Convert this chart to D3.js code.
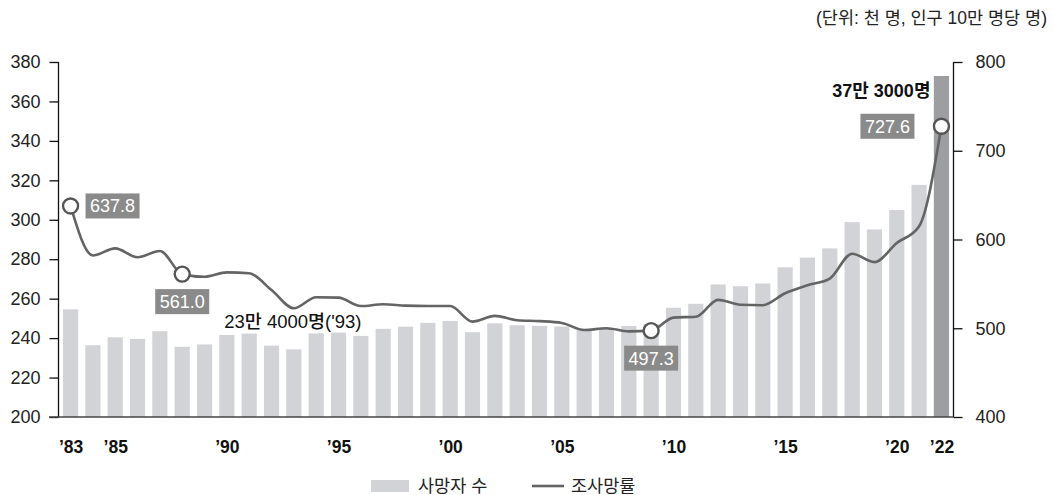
<!DOCTYPE html>
<html>
<head>
<meta charset="utf-8">
<script src="https://cdn.jsdelivr.net/npm/d3@7/dist/d3.min.js"></script>
<style>
  html, body { margin: 0; padding: 0; background: #fff; }
  svg { display: block; font-family: "Liberation Sans", "Noto Sans CJK KR", sans-serif; }
</style>
</head>
<body>
<svg id="chart" width="1053" height="495"></svg>
<script>
// ---- data ----
const years = [1983,1984,1985,1986,1987,1988,1989,1990,1991,1992,1993,1994,1995,1996,1997,1998,1999,2000,2001,2002,2003,2004,2005,2006,2007,2008,2009,2010,2011,2012,2013,2014,2015,2016,2017,2018,2019,2020,2021,2022];
// 사망자 수 (천 명)
const deaths = [254.6,236.4,240.4,239.6,243.5,235.6,236.8,241.6,242.3,236.2,234.3,242.4,242.8,241.1,244.7,245.8,247.7,248.7,243.0,247.5,246.5,246.2,245.9,244.2,245.0,246.1,247.0,255.4,257.4,267.2,266.3,267.7,275.9,280.8,285.5,298.8,295.1,304.9,317.7,372.9];
// 조사망률 (인구 10만 명당 명)
const rates = [637.8,582,590,580,587,561.0,558,563,562,543,522.5,535,534.5,525,527,525.5,525,525,507.5,514,509,508,506,498,500,496.5,497.3,512,513,532,526.5,526,539.5,548.5,556,584,574.5,596,615,727.6];
const leftTicks = [200,220,240,260,280,300,320,340,360,380];
const rightTicks = [400,500,600,700,800];
const xTickYears = [1983,1985,1990,1995,2000,2005,2010,2015,2020,2022];
const xTickLabels = ["’83","’85","’90","’95","’00","’05","’10","’15","’20","’22"];
const boxed = [
  {year:1983, text:"637.8", pos:"right"},
  {year:1988, text:"561.0", pos:"below"},
  {year:2009, text:"497.3", pos:"below"},
  {year:2022, text:"727.6", pos:"left"}
];
const unitText = "(단위: 천 명, 인구 10만 명당 명)";
const minNote = {year:1993, text:"23만 4000명('93)"};
const maxNote = {year:2022, text:"37만 3000명"};
const legendBar = "사망자 수";
const legendLine = "조사망률";

// ---- layout ----
const L = 58.5, R = 953.5, T = 62, B = 417;
const svg = d3.select("#chart");

const x = d3.scaleBand().domain(years).range([L, R]).paddingInner(0.32).paddingOuter(0.2);
const yL = d3.scaleLinear().domain([200, 380]).range([B, T]);
const yR = d3.scaleLinear().domain([400, 800]).range([B, T]);
const cx = yr => x(yr) + x.bandwidth() / 2;

// bars
svg.append("g").selectAll("rect").data(years).join("rect")
  .attr("x", d => x(d))
  .attr("width", x.bandwidth())
  .attr("y", (d, i) => yL(deaths[i]))
  .attr("height", (d, i) => B - yL(deaths[i]))
  .attr("fill", d => d === 2022 ? "#9d9ea2" : "#d2d3d7");

// left axis
const gL = svg.append("g").attr("transform", `translate(${L},0)`)
  .call(d3.axisLeft(yL).tickValues(leftTicks).tickSize(9).tickPadding(9));
gL.select(".domain").attr("stroke", "#111").attr("stroke-width", 1.3).attr("d", `M0,${T}V${B}`);
gL.selectAll(".tick line").attr("stroke", "#111").attr("stroke-width", 1.3);
gL.selectAll(".tick text").attr("font-size", 18).attr("fill", "#222").attr("font-family", "Liberation Sans, sans-serif");

// right axis
const gR = svg.append("g").attr("transform", `translate(${R},0)`)
  .call(d3.axisRight(yR).tickValues(rightTicks).tickSize(9).tickPadding(13));
gR.select(".domain").attr("stroke", "#111").attr("stroke-width", 1.3).attr("d", `M0,${T}V${B}`);
gR.selectAll(".tick line").attr("stroke", "#111").attr("stroke-width", 1.3);
gR.selectAll(".tick text").attr("font-size", 18).attr("fill", "#222").attr("font-family", "Liberation Sans, sans-serif");

// bottom axis
const xAxisScale = d3.scalePoint().domain(years).range([cx(1983), cx(2022)]);
const gB = svg.append("g").attr("transform", `translate(0,${B})`)
  .call(d3.axisBottom(xAxisScale).tickValues(xTickYears).tickSize(0).tickPadding(24)
    .tickFormat(d => xTickLabels[xTickYears.indexOf(d)]));
gB.select(".domain").attr("stroke", "#444").attr("stroke-width", 1.6).attr("d", `M49,0H${R}`);
gB.selectAll(".tick text").attr("font-size", 17.5).attr("font-weight", "bold").attr("fill", "#111")
  .attr("font-family", "Liberation Sans, sans-serif");

// line
const line = d3.line().x((d, i) => cx(years[i])).y(d => yR(d)).curve(d3.curveMonotoneX);
svg.append("path").datum(rates).attr("d", line)
  .attr("fill", "none").attr("stroke", "#646464").attr("stroke-width", 2.6);

// boxed labels + circles
const bw = 54, bh = 25;
boxed.forEach(b => {
  const i = years.indexOf(b.year);
  const px = cx(b.year), py = yR(rates[i]);
  let bx, by;
  if (b.pos === "right") { bx = px + 15; by = py - bh / 2; }
  else if (b.pos === "left") { bx = px - 27 - bw; by = py - bh / 2; }
  else { bx = px - bw / 2; by = py + 15; }
  svg.append("rect").attr("x", bx).attr("y", by).attr("width", bw).attr("height", bh).attr("fill", "#8a8a8a");
  svg.append("text").attr("x", bx + bw / 2).attr("y", by + bh / 2 + 6.5)
    .attr("text-anchor", "middle").attr("font-size", 18).attr("fill", "#fff").text(b.text);
  svg.append("circle").attr("cx", px).attr("cy", py).attr("r", 7.5)
    .attr("fill", "#fff").attr("stroke", "#555").attr("stroke-width", 2.4);
});

// annotations
{
  const i = years.indexOf(minNote.year);
  svg.append("text").attr("x", cx(minNote.year) - 1).attr("y", yL(deaths[i]) - 21)
    .attr("text-anchor", "middle").attr("font-size", 18.5).attr("font-weight", 500).attr("fill", "#111")
    .text(minNote.text);
}
{
  svg.append("text").attr("x", cx(maxNote.year) - 11).attr("y", 97)
    .attr("text-anchor", "end").attr("font-size", 18).attr("font-weight", "bold").attr("fill", "#111")
    .text(maxNote.text);
}

// unit
svg.append("text").attr("x", 1047).attr("y", 24).attr("text-anchor", "end")
  .attr("font-size", 17.5).attr("fill", "#222").text(unitText);

// legend
const lg = svg.append("g");
lg.append("rect").attr("x", 371).attr("y", 480).attr("width", 38).attr("height", 12).attr("fill", "#d2d3d7");
lg.append("text").attr("x", 418).attr("y", 492).attr("font-size", 17.5).attr("fill", "#222").text(legendBar);
lg.append("line").attr("x1", 532).attr("x2", 564).attr("y1", 486).attr("y2", 486)
  .attr("stroke", "#646464").attr("stroke-width", 2.6);
lg.append("text").attr("x", 571).attr("y", 492).attr("font-size", 17.5).attr("fill", "#222").text(legendLine);
</script>
</body>
</html>
